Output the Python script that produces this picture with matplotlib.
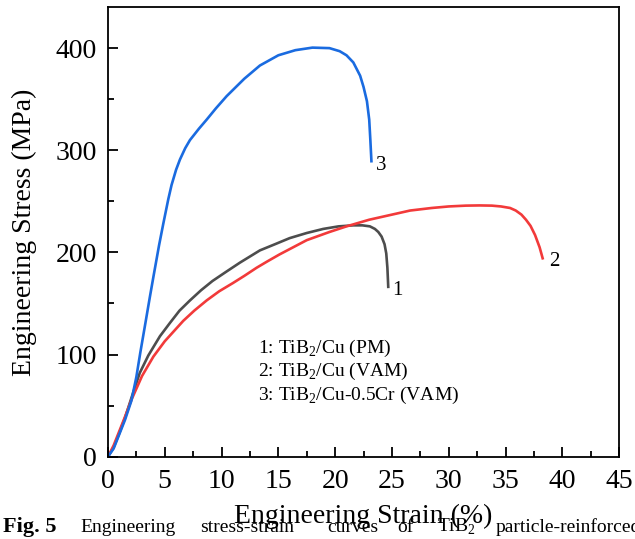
import matplotlib
matplotlib.use("Agg")
import matplotlib.pyplot as plt
from matplotlib.ticker import MultipleLocator

plt.rcParams['font.family'] = ['Liberation Serif', 'DejaVu Serif']
plt.rcParams['mathtext.fontset'] = 'custom'
plt.rcParams['mathtext.rm'] = 'Liberation Serif'

# curve 1: TiB2/Cu (PM)
strain_1 = [0, 0.5, 1.0, 1.5, 2.08, 2.8, 3.55, 4.58, 5.46, 6.3, 7.22, 8.2, 9.2,
            10.4, 11.62, 13.38, 14.7, 16.0, 17.5, 18.95, 20.3, 21.6, 22.4,
            23.06, 23.5, 23.8, 24.09, 24.35, 24.5, 24.6, 24.68]
stress_1 = [0, 9, 23, 38, 58, 82, 99, 118, 131, 143, 153, 163, 172,
            181, 190, 202, 208, 214, 219, 223, 225.5, 226.5, 226.5,
            225.5, 223, 220, 215.5, 208, 199, 185, 165]

# curve 2: TiB2/Cu (VAM)
strain_2 = [0, 0.5, 1.0, 1.5, 2.08, 3.0, 4.0, 5.0, 6.63, 7.6, 8.69, 9.8, 11.0,
            12.0, 13.09, 14.0, 15.1, 16.3, 17.5, 19.5, 21.0, 23.0, 25.0,
            26.6, 28.5, 30.0, 31.5, 32.7, 33.8, 34.6, 35.4, 35.9, 36.4,
            36.8, 37.2, 37.6, 38.0, 38.3]
stress_2 = [0, 11, 25, 39, 56, 79, 98, 113, 133, 143, 153, 162, 170,
            177, 185, 191, 198, 205, 212, 220, 225.5, 232, 237,
            241, 243.5, 245, 245.8, 246, 245.8, 245, 243.5, 241, 237,
            232, 226, 217, 205, 193]

# curve 3: TiB2/Cu-0.5Cr (VAM)
strain_3 = [0, 0.5, 1.0, 1.5, 2.07, 2.5, 2.85, 3.3, 3.7, 4.0, 4.5, 4.87, 5.31,
            5.6, 6.0, 6.34, 6.8, 7.22, 8.0, 8.69, 9.5, 10.45, 12.0, 13.38,
            15.0, 16.5, 18.0, 19.5, 20.4, 21.0, 21.6, 22.2, 22.5, 22.8,
            23.0, 23.1, 23.2]
stress_3 = [0, 8, 22, 36, 55, 78, 102, 131, 157, 176, 207, 228, 252,
            266, 281, 291, 302, 310, 321, 330, 341, 353, 370, 383,
            393, 398, 400.5, 400, 397, 393, 386, 373, 362, 348,
            330, 310, 288]

curve_labels = ['1', '2', '3']
legend_lines = ['1: TiB$_2$/Cu (PM)', '2: TiB$_2$/Cu (VAM)',
                '3: TiB$_2$/Cu-0.5Cr (VAM)']

caption_words = ['Engineering', 'stress-strain', 'curves', 'of', 'TiB$_2$',
                 'particle-reinforced']
caption_x = [80, 200, 327, 397, 437, 496]  # word start, px

fig = plt.figure(figsize=(6.35, 5.39), dpi=100)
ax = fig.add_axes([0.170, 0.1527, 0.805, 0.8338])

kw = dict(lw=1.9, solid_joinstyle='round', solid_capstyle='butt')
ax.plot(strain_1, stress_1, color='#4d4d4d', **kw)
ax.plot(strain_2, stress_2, color='#f23a3a', **kw)
ax.plot(strain_3, stress_3, color='#1a6be0', **kw)

# curve numbers at the ends
ax.text(25.0, 163, curve_labels[0], fontsize=15, va='center', ha='left')
ax.text(38.8, 191, curve_labels[1], fontsize=15, va='center', ha='left')
ax.text(23.6, 285, curve_labels[2], fontsize=15, va='center', ha='left')

for i, txt in enumerate(legend_lines):
    ax.text(13.2, 106 - i * 23, txt, fontsize=14, va='center', ha='left')

ax.set_xlim(0, 45)
ax.set_ylim(0, 440)
ax.xaxis.set_major_locator(MultipleLocator(5))
ax.xaxis.set_minor_locator(MultipleLocator(2.5))
ax.yaxis.set_major_locator(MultipleLocator(100))
ax.yaxis.set_minor_locator(MultipleLocator(50))
ax.tick_params(which='both', direction='in', width=1.3, labelsize=20)
ax.tick_params(which='major', length=7.5)
ax.tick_params(which='minor', length=4.5)
ax.tick_params(axis='x', pad=9)
ax.tick_params(axis='y', pad=8)
for s in ax.spines.values():
    s.set_linewidth(1.3)

ax.set_xlabel('Engineering Strain (%)', fontsize=20)
ax.xaxis.set_label_coords(0.5, -0.105)
ax.set_ylabel('Engineering Stress (MPa)', fontsize=20)
ax.yaxis.set_label_coords(-0.138, 0.5)

# figure caption cut at the bottom
fig.text(3 / 635, 0.0135, 'Fig. 5', fontsize=16, fontweight='bold', va='baseline')
for w, xp in zip(caption_words, caption_x):
    fig.text(xp / 635, 0.0135, w, fontsize=14, va='baseline')

fig.savefig('out.png', dpi=100)
